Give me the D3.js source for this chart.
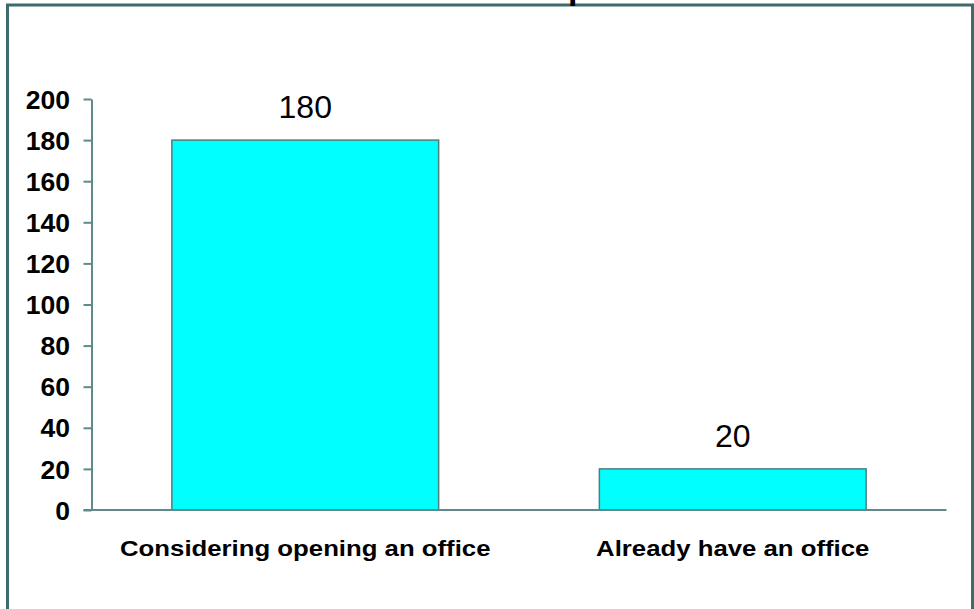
<!DOCTYPE html>
<html>
<head>
<meta charset="utf-8">
<script src="https://cdn.jsdelivr.net/npm/d3@7"></script>
<style>
  html, body { margin: 0; padding: 0; background: #ffffff; }
  svg { display: block; font-family: "Liberation Sans", Arial, sans-serif; }
</style>
</head>
<body>
<svg id="chart" width="974" height="609"></svg>
<script>
// Survey responses
const categories = ["Considering opening an office", "Already have an office"];
const values = [180, 20];
const yTicks = [0, 20, 40, 60, 80, 100, 120, 140, 160, 180, 200];

const svg = d3.select("#chart");
const W = 974, H = 609;
const margin = { left: 91.5, right: 27.5, top: 99, bottom: 99 };
const axisColor = "#5f8a8b";

// slide frame
svg.append("rect")
  .attr("x", 7.5).attr("y", 5)
  .attr("width", 965).attr("height", 620)
  .attr("fill", "#ffffff")
  .attr("stroke", "#3d6b6b")
  .attr("stroke-width", 3);

// title runs off the top edge; only its descender shows
svg.append("text")
  .attr("x", 568).attr("y", -1)
  .attr("font-size", 34).attr("font-weight", "bold")
  .attr("fill", "#000")
  .text("p");

const x = d3.scaleBand()
  .domain(categories)
  .range([margin.left, W - margin.right])
  .paddingInner(0.376)
  .paddingOuter(0.188);

const y = d3.scaleLinear()
  .domain([0, 200])
  .range([H - margin.bottom, margin.top]);

// y axis
const yAxis = svg.append("g")
  .attr("transform", `translate(${margin.left},0)`)
  .call(d3.axisLeft(y).tickValues(yTicks).tickSize(8).tickSizeOuter(0).tickPadding(12.7));
yAxis.select(".domain").attr("stroke", axisColor).attr("stroke-width", 2);
yAxis.selectAll(".tick line").attr("stroke", axisColor).attr("stroke-width", 2);
yAxis.selectAll(".tick text")
  .attr("font-family", "'Liberation Sans', Arial, sans-serif")
  .attr("font-size", 25.5).attr("font-weight", "bold")
  .attr("fill", "#000").attr("dy", "0.36em")
  .attr("transform", "scale(1.04,1)");

// bars
svg.append("g").selectAll("rect")
  .data(values)
  .join("rect")
  .attr("x", (d, i) => x(categories[i]))
  .attr("y", d => y(d))
  .attr("width", x.bandwidth())
  .attr("height", d => y(0) - y(d))
  .attr("fill", "#00ffff")
  .attr("stroke", "#4f7d7e")
  .attr("stroke-width", 1.5);

// x axis baseline
svg.append("line")
  .attr("x1", margin.left - 8).attr("x2", W - margin.right)
  .attr("y1", y(0)).attr("y2", y(0))
  .attr("stroke", axisColor).attr("stroke-width", 2);

// value labels
svg.append("g").selectAll("text")
  .data(values)
  .join("text")
  .attr("x", (d, i) => x(categories[i]) + x.bandwidth() / 2)
  .attr("y", d => y(d) - 22)
  .attr("text-anchor", "middle")
  .attr("font-size", 32)
  .attr("fill", "#000")
  .text(d => d);

// category labels (slightly widened type)
svg.append("g").selectAll("text")
  .data(categories)
  .join("text")
  .attr("transform", d => `translate(${x(d) + x.bandwidth() / 2},556) scale(1.12,1)`)
  .attr("text-anchor", "middle")
  .attr("font-size", 23).attr("font-weight", "bold")
  .attr("fill", "#000")
  .text(d => d);
</script>
</body>
</html>
